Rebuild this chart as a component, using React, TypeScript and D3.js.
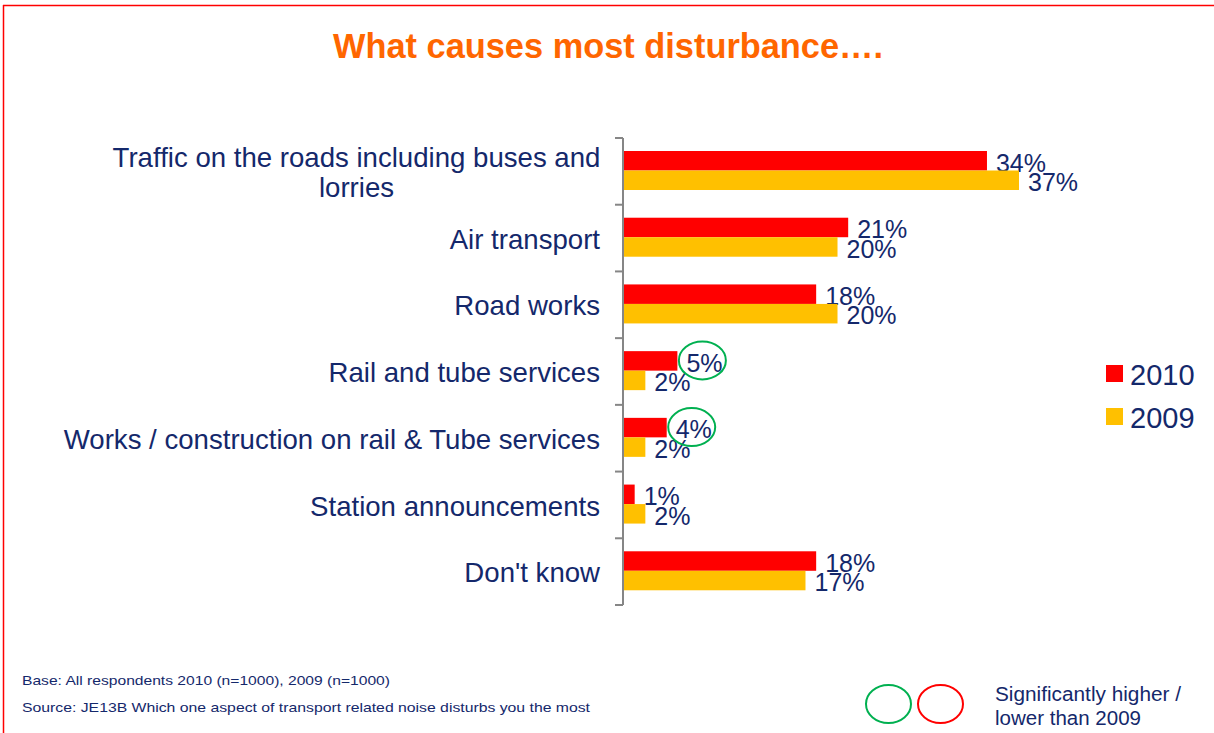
import React from "react";
import * as d3 from "d3";

const categories = [
  "Traffic on the roads including buses and|lorries",
  "Air transport",
  "Road works",
  "Rail and tube services",
  "Works / construction on rail & Tube services",
  "Station announcements",
  "Don't know",
];
const values2010 = [34, 21, 18, 5, 4, 1, 18];
const values2009 = [37, 20, 20, 2, 2, 2, 17];
const significance = ["", "", "", "higher", "higher", "", ""];
const seriesNames = ["2010", "2009"];
const seriesColors = ["#FF0000", "#FFC000"];

const W = 1214;
const H = 733;
const NAVY = "#14286B";
const FONT = "Liberation Sans, Arial, sans-serif";
const NARROW = "Liberation Sans Narrow, Liberation Sans, Arial, sans-serif";

export default function App() {
  const x = d3.scaleLinear().domain([0, 37]).range([624, 1019]);
  const y = d3.scaleBand<string>().domain(categories).range([138, 605]);
  const band = y.bandwidth();
  const barH = 19.5;
  const topPad = 13;

  return (
    <svg
      width={W}
      height={H}
      style={{ position: "absolute", left: 0, top: 0, background: "#fff" }}
      fontFamily={FONT}
    >
      {/* frame */}
      <line x1={3} x2={W} y1={5.5} y2={5.5} stroke="#FF0000" strokeWidth={1.5} />
      <line x1={3.5} x2={3.5} y1={5} y2={H} stroke="#FF0000" strokeWidth={1.5} />

      {/* title */}
      <text
        x={608}
        y={58}
        textAnchor="middle"
        fill="#FF6600"
        fontWeight="bold"
        fontSize={35}
        fontFamily={NARROW}
        textLength={550}
        lengthAdjust="spacingAndGlyphs"
      >
        What causes most disturbance….
      </text>

      {/* axis */}
      <line x1={623} x2={623} y1={138} y2={605} stroke="#868686" strokeWidth={2} />
      {d3.range(categories.length + 1).map((i) => {
        const ty = 138 + i * band;
        return <line key={i} x1={615} x2={623} y1={ty} y2={ty} stroke="#868686" strokeWidth={2} />;
      })}

      {categories.map((c, i) => {
        const y0 = (y(c) as number) + topPad;
        const lines = c.split("|");
        const cy = (y(c) as number) + band / 2;
        return (
          <g key={c}>
            {lines.length === 1 ? (
              <text x={600} y={cy + 1} dy="0.35em" textAnchor="end" fontSize={27.6} fill={NAVY}>
                {lines[0]}
              </text>
            ) : (
              <text fontSize={27.6} fill={NAVY} textAnchor="middle">
                {lines.map((l, k) => (
                  <tspan key={k} x={356.5} y={cy + 1 + (k - (lines.length - 1) / 2) * 30} dy="0.35em">
                    {l}
                  </tspan>
                ))}
              </text>
            )}
            {[values2010[i], values2009[i]].map((v, s) => {
              const by = y0 + s * barH;
              return (
                <g key={s}>
                  <rect x={x(0)} y={by} width={x(v) - x(0)} height={barH} fill={seriesColors[s]} />
                  <text
                    x={x(v) + 9}
                    y={by + barH / 2 + 2}
                    dy="0.35em"
                    fontSize={25}
                    fill={NAVY}
                  >
                    {v}%
                  </text>
                </g>
              );
            })}
            {significance[i] && (
              <ellipse
                cx={x(values2010[i]) + 25}
                cy={y0 + barH / 2 - 0.5}
                rx={23.5}
                ry={19}
                fill="none"
                stroke={significance[i] === "higher" ? "#00B050" : "#FF0000"}
                strokeWidth={2}
              />
            )}
          </g>
        );
      })}

      {/* legend */}
      {seriesNames.map((n, i) => (
        <g key={n}>
          <rect x={1106} y={365 + i * 43} width={17} height={17} fill={seriesColors[i]} />
          <text x={1130} y={375 + i * 43} dy="0.36em" fontSize={29} fill={NAVY}>
            {n}
          </text>
        </g>
      ))}

      {/* footnotes */}
      <text x={22} y={685} fontSize={13} fill={NAVY} fontFamily={NARROW} textLength={368} lengthAdjust="spacingAndGlyphs">
        Base: All respondents 2010 (n=1000), 2009 (n=1000)
      </text>
      <text x={22} y={712} fontSize={13} fill={NAVY} fontFamily={NARROW} textLength={568} lengthAdjust="spacingAndGlyphs">
        Source:  JE13B Which one aspect of transport related noise  disturbs you the most
      </text>

      {/* significance key */}
      <ellipse cx={888.5} cy={704} rx={22.5} ry={19} fill="none" stroke="#00B050" strokeWidth={2} />
      <ellipse cx={940.5} cy={704} rx={22.5} ry={19} fill="none" stroke="#FF0000" strokeWidth={2} />
      <text x={995} y={701} fontSize={19.5} fill={NAVY} textLength={186} lengthAdjust="spacingAndGlyphs">
        Significantly higher /
      </text>
      <text x={995} y={725} fontSize={19.5} fill={NAVY} textLength={146} lengthAdjust="spacingAndGlyphs">
        lower than 2009
      </text>
    </svg>
  );
}
